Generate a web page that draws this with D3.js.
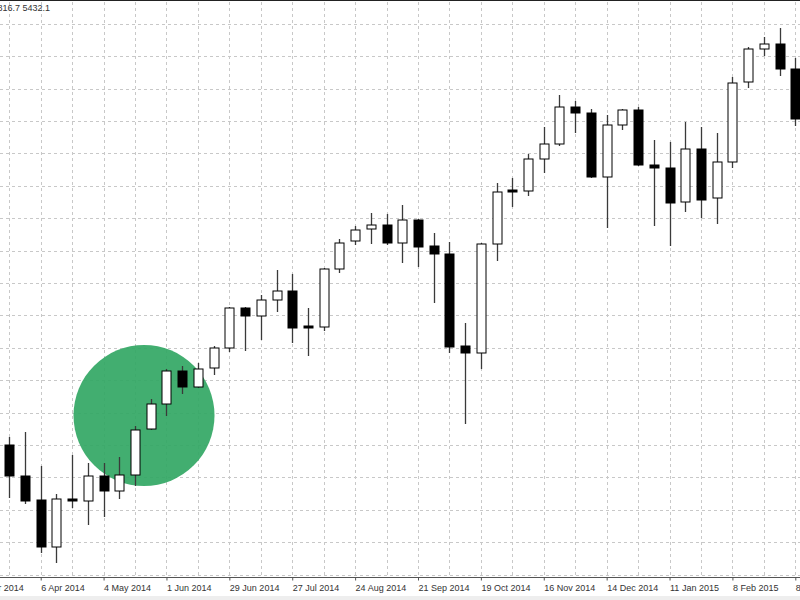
<!DOCTYPE html>
<html>
<head>
<meta charset="utf-8">
<script src="https://cdn.jsdelivr.net/npm/d3@7/dist/d3.min.js"></script>
<style>
  body { margin: 0; background: #fff; }
  svg { display: block; }
</style>
</head>
<body>
<svg id="chart" width="800" height="600"></svg>
<script>
// weekly bars, first week starting Sunday 23 Mar 2014
const firstWeek = "2014-03-23";
const lastWeek = "2015-03-08";

const opens  = [3640,3578,3530,3436,3532,3528,3578,3548,3580,3672,3722,3788,3756,3794,3834,3914,3898,3930,3948,3878,3876,3992,4048,4072,4080,4044,4090,4038,4022,3838,3824,4042,4150,4148,4212,4242,4316,4304,4176,4280,4310,4200,4194,4126,4232,4134,4206,4366,4432,4442,4392];
const highs  = [3656,3666,3598,3542,3620,3604,3604,3616,3678,3732,3792,3798,3804,3838,3916,3916,3940,3990,3982,3914,3994,4052,4078,4104,4102,4120,4092,4064,4046,3884,4044,4164,4174,4222,4276,4340,4328,4312,4300,4312,4316,4250,4246,4286,4276,4264,4376,4436,4456,4474,4414];
const lows   = [3534,3522,3424,3404,3514,3480,3496,3532,3558,3670,3698,3742,3754,3780,3826,3828,3850,3906,3844,3818,3868,3984,4040,4042,4040,4004,3996,3924,3824,3682,3792,4008,4116,4138,4184,4238,4264,4174,4074,4270,4198,4078,4038,4106,4094,4082,4194,4354,4418,4378,4278];
const closes = [3578,3528,3436,3532,3528,3578,3548,3580,3670,3722,3788,3756,3792,3834,3914,3898,3930,3948,3874,3874,3992,4044,4070,4080,4044,4090,4036,4022,3836,3824,4042,4146,4146,4212,4242,4316,4304,4176,4280,4310,4200,4194,4124,4232,4130,4206,4364,4432,4442,4392,4292];

const tickDates = ["2014-03-09","2014-04-06","2014-05-04","2014-06-01","2014-06-29","2014-07-27","2014-08-24","2014-09-21","2014-10-19","2014-11-16","2014-12-14","2015-01-11","2015-02-08","2015-03-08"];

const headerText = "5816.7 5432.1";

// highlighted zone (green disc)
const highlightDate = "2014-05-22";
const highlightPrice = 3699;

const width = 800, height = 600;
const parse = d3.utcParse("%Y-%m-%d");
const fmt = d3.utcFormat("%-d %b %Y");

const weeks = d3.utcSunday.range(parse(firstWeek), d3.utcDay.offset(parse(lastWeek), 1));
const bars = weeks.map((d, i) => ({
  date: d, open: opens[i], high: highs[i], low: lows[i], close: closes[i]
}));

const x = d3.scaleUtc()
  .domain([parse("2014-04-06"), parse("2015-03-08")])
  .range([40.7, 795.3]);

const y = d3.scaleLinear()
  .domain([3330, 4530])
  .range([height, 0]);

const svg = d3.select("#chart");

// grid
const grid = svg.append("g").attr("class", "grid");
const gridPrices = d3.range(3380.8, 4500, 64.8);
grid.selectAll(".h")
  .data(gridPrices)
  .enter().append("line")
  .attr("x1", 0).attr("x2", width)
  .attr("y1", d => Math.round(y(d)) + 0.5)
  .attr("y2", d => Math.round(y(d)) + 0.5)
  .attr("stroke", "#c8c8c8")
  .attr("stroke-dasharray", "3,3");

const gridWeeks = d3.utcSunday.range(parse("2014-03-09"), parse("2015-03-20"), 2);
grid.selectAll(".v")
  .data(gridWeeks)
  .enter().append("line")
  .attr("x1", d => Math.round(x(d)) + 0.5)
  .attr("x2", d => Math.round(x(d)) + 0.5)
  .attr("y1", 2).attr("y2", 577)
  .attr("stroke", "#c8c8c8")
  .attr("stroke-dasharray", "3,3");

// green highlight disc
svg.append("circle")
  .attr("cx", x(parse(highlightDate)))
  .attr("cy", y(highlightPrice))
  .attr("r", 70.5)
  .attr("fill", "#34a865")
  .attr("fill-opacity", 0.93);

// candles
const bodyW = 9;
const candle = svg.append("g").selectAll("g")
  .data(bars)
  .enter().append("g")
  .attr("transform", d => `translate(${Math.round(x(d.date)) + 0.5},0)`);

candle.append("line")
  .attr("y1", d => y(d.high))
  .attr("y2", d => y(d.low))
  .attr("stroke", "#3a3a3a")
  .attr("stroke-width", 1.3);

candle.append("rect")
  .attr("x", -bodyW / 2)
  .attr("y", d => y(Math.max(d.open, d.close)))
  .attr("width", bodyW)
  .attr("height", d => Math.max(2, Math.abs(y(d.open) - y(d.close))))
  .attr("fill", d => d.close >= d.open ? "#fff" : "#000")
  .attr("stroke", "#000")
  .attr("stroke-width", 1);

// time axis
const axis = d3.axisBottom(x)
  .tickValues(tickDates.map(parse))
  .tickFormat(fmt)
  .tickSize(3)
  .tickSizeOuter(0);

const ax = svg.append("g")
  .attr("transform", "translate(0,577.5)")
  .call(axis);
ax.select(".domain").attr("stroke", "#555").attr("d", `M0,0H${width}`);
ax.selectAll(".tick line").attr("stroke", "#555");
ax.selectAll(".tick text")
  .attr("text-anchor", "start")
  .attr("dx", 0)
  .attr("y", 7)
  .attr("fill", "#333")
  .style("font-family", "Liberation Sans, Arial, sans-serif")
  .style("font-size", "9px");

svg.append("rect")
  .attr("x", 0).attr("y", 596)
  .attr("width", width).attr("height", 4)
  .attr("fill", "#eeeeee");

// top frame and header values
svg.append("line")
  .attr("x1", 0).attr("x2", width)
  .attr("y1", 0.5).attr("y2", 0.5)
  .attr("stroke", "#222");

svg.append("text")
  .attr("x", 50)
  .attr("y", 11)
  .attr("text-anchor", "end")
  .attr("fill", "#333")
  .style("font-family", "Liberation Sans, Arial, sans-serif")
  .style("font-size", "9px")
  .text(headerText);
</script>
</body>
</html>
